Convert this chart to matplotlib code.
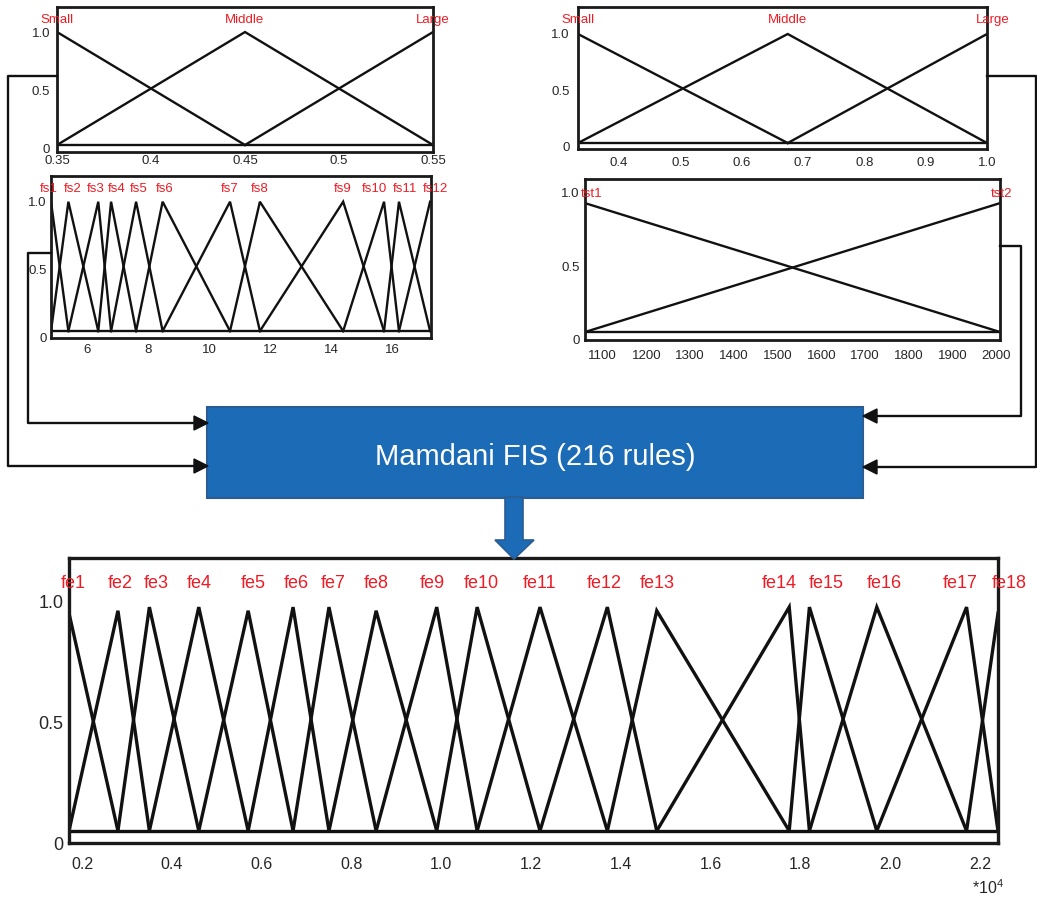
import matplotlib.pyplot as plt
from matplotlib.patches import Rectangle, Polygon

plt.rcParams['font.family'] = ['Liberation Sans', 'DejaVu Sans']
plt.rcParams['mathtext.fontset'] = 'custom'
plt.rcParams['mathtext.rm'] = 'Liberation Sans'

W, H = 1037, 902

# input 1 (top left)
in1_names = ["Small", "Middle", "Large"]
in1_peaks = [0.35, 0.45, 0.55]
in1_ticks = [0.35, 0.4, 0.45, 0.5, 0.55]
in1_ticklabels = ["0.35", "0.4", "0.45", "0.5", "0.55"]

# input 2 (top right)
in2_names = ["Small", "Middle", "Large"]
in2_peaks = [0.333, 0.675, 1.0]
in2_ticks = [0.4, 0.5, 0.6, 0.7, 0.8, 0.9, 1.0]
in2_ticklabels = ["0.4", "0.5", "0.6", "0.7", "0.8", "0.9", "1.0"]

# input 3 (middle left)
fs_names = ["fs1", "fs2", "fs3", "fs4", "fs5", "fs6",
            "fs7", "fs8", "fs9", "fs10", "fs11", "fs12"]
fs_peaks = [4.82, 5.39, 6.37, 6.79, 7.61, 8.48,
            10.69, 11.67, 14.40, 15.74, 16.23, 17.25]
fs_ticks = [6, 8, 10, 12, 14, 16]

# input 4 (middle right)
tst_names = ["tst1", "tst2"]
tst_range = [1060, 2008]
tst_ticks = [1100, 1200, 1300, 1400, 1500, 1600, 1700, 1800, 1900, 2000]

# output
fe_names = ["fe%d" % i for i in range(1, 19)]
fe_peaks = [0.171, 0.28, 0.35, 0.46, 0.57, 0.67, 0.75, 0.855, 0.99,
            1.08, 1.22, 1.37, 1.48, 1.775, 1.82, 1.97, 2.17, 2.24]
fe_heights = [0.95, 0.96, 0.975, 0.975, 0.96, 0.975, 0.975, 0.96, 0.975,
              0.975, 0.975, 0.975, 0.96, 0.975, 0.975, 0.975, 0.975, 0.95]
fe_ticks = [0.2, 0.4, 0.6, 0.8, 1.0, 1.2, 1.4, 1.6, 1.8, 2.0, 2.2]
fe_ticklabels = ["0.2", "0.4", "0.6", "0.8", "1.0", "1.2", "1.4",
                 "1.6", "1.8", "2.0", "2.2"]

RED = '#ed1c24'
TXT = '#262626'

fig = plt.figure(figsize=(W / 100, H / 100), dpi=100)


def panel(l, t, r, b, xlim, ylim, fs, xpad, ypad, lw=2.0):
    ax = fig.add_axes([l / W, 1 - b / H, (r - l) / W, (b - t) / H])
    ax.set_xlim(xlim)
    ax.set_ylim(ylim)
    for s in ax.spines.values():
        s.set_linewidth(lw)
        s.set_color('#1a1a1a')
    ax.tick_params(length=0, labelsize=fs, colors=TXT)
    ax.tick_params(axis='x', pad=xpad)
    ax.tick_params(axis='y', pad=ypad)
    ax.set_yticks([0, 0.5, 1.0])
    ax.set_yticklabels(["0", "0.5", "1.0"])
    return ax


def tri_set(ax, peaks, heights, foot, lw, color='#111111'):
    n = len(peaks)
    for i in range(n):
        xs, ys = [], []
        if i > 0:
            xs.append(peaks[i - 1]); ys.append(foot)
        xs.append(peaks[i]); ys.append(heights[i])
        if i < n - 1:
            xs.append(peaks[i + 1]); ys.append(foot)
        ax.plot(xs, ys, color=color, lw=lw, solid_joinstyle='miter')
    ax.axhline(foot, color=color, lw=lw)


def labels(ax, names, xs, y, fs, nudge=None):
    # nudge: horizontal shift of a label in pixels
    nudge = nudge or {}
    for name, x in zip(names, xs):
        ax.annotate(name, (x, y), xytext=(nudge.get(name, 0) * 0.72, 0),
                    textcoords='offset points', ha='center', va='center',
                    color=RED, fontsize=fs, annotation_clip=False)


# top left
ax1 = panel(57, 7, 433, 152, (0.35, 0.55), (-0.026, 1.214), 9.5, 2, 5)
tri_set(ax1, in1_peaks, [1.0] * 3, 0.034, 1.7)
ax1.set_xticks(in1_ticks)
ax1.set_xticklabels(in1_ticklabels)
labels(ax1, in1_names, in1_peaks, 1.10, 9.5)

# top right
ax2 = panel(578, 7, 987, 149, (0.333, 1.0), (-0.018, 1.239), 9.5, 6, 6)
tri_set(ax2, in2_peaks, [1.0] * 3, 0.035, 1.7)
ax2.set_xticks(in2_ticks)
ax2.set_xticklabels(in2_ticklabels)
labels(ax2, in2_names, in2_peaks, 1.12, 9.5, {"Large": 6})

# middle left
ax3 = panel(51, 176, 431, 338, (4.82, 17.28), (-0.007, 1.19), 9.5, 4, 3)
tri_set(ax3, fs_peaks, [1.0] * 12, 0.044, 1.7)
ax3.set_xticks(fs_ticks)
labels(ax3, fs_names, fs_peaks, 1.095, 9.5,
       {"fs1": -2, "fs2": 4, "fs3": -3, "fs4": 6, "fs5": 3, "fs6": 2,
        "fs10": -10, "fs11": 6, "fs12": 5})

# middle right
ax4 = panel(585, 179, 1000, 340, tst_range, (0, 1.088), 9.5, 7, 4)
ax4.plot(tst_range, [0.925, 0.054], color='#111111', lw=1.7)
ax4.plot(tst_range, [0.054, 0.925], color='#111111', lw=1.7)
ax4.axhline(0.054, color='#111111', lw=1.7)
ax4.set_xticks(tst_ticks)
labels(ax4, tst_names, tst_range, 0.99, 9.5, {"tst1": 7, "tst2": 2})

# output panel
ax5 = panel(69, 558, 998, 843, (0.171, 2.24), (0, 1.178), 13, 10, 4, lw=2.4)
tri_set(ax5, fe_peaks, fe_heights, 0.05, 2.4)
ax5.set_xticks(fe_ticks)
ax5.set_xticklabels(fe_ticklabels, fontsize=11.5)
labels(ax5, fe_names, fe_peaks, 1.074, 13,
       {"fe1": 4, "fe2": 2, "fe3": 7, "fe5": 5, "fe6": 3, "fe7": 4,
        "fe9": -4, "fe10": 4, "fe12": -3, "fe14": -10, "fe15": 17,
        "fe16": 8, "fe17": -6, "fe18": 11})

# overlay for the block diagram
ov = fig.add_axes([0, 0, 1, 1])
ov.set_xlim(0, W)
ov.set_ylim(H, 0)
ov.axis('off')
ov.patch.set_alpha(0)

LC = '#111111'
ov.plot([57, 8, 8, 197], [76, 76, 466, 466], color=LC, lw=1.7)
ov.plot([51, 28, 28, 197], [253, 253, 423, 423], color=LC, lw=1.7)
ov.plot([987, 1036, 1036, 873], [76, 76, 467, 467], color=LC, lw=1.7)
ov.plot([1000, 1021, 1021, 873], [246, 246, 416, 416], color=LC, lw=1.7)


def head(tip_x, y, direction):
    back = tip_x - 14 * direction
    ov.add_patch(Polygon([(tip_x, y), (back, y - 7), (back, y + 7)],
                         closed=True, color=LC, zorder=3))


head(208, 466, 1)
head(208, 423, 1)
head(863, 467, -1)
head(863, 416, -1)

BLUE = '#1c6bb6'
EDGE = '#2b5c93'
ov.add_patch(Rectangle((207, 407), 656, 91, facecolor=BLUE, edgecolor=EDGE, lw=1.5))
ov.text(535, 457, "Mamdani FIS (216 rules)", color='white', fontsize=21,
        ha='center', va='center')
ov.add_patch(Polygon([(505, 497), (523, 497), (523, 540), (534, 540),
                      (514, 559), (495, 540), (505, 540)],
                     closed=True, facecolor=BLUE, edgecolor=EDGE, lw=1.2))

ov.text(988, 888, "*10$^4$", color=TXT, fontsize=11.5, ha='center', va='center')

fig.savefig("out.png", dpi=100)
